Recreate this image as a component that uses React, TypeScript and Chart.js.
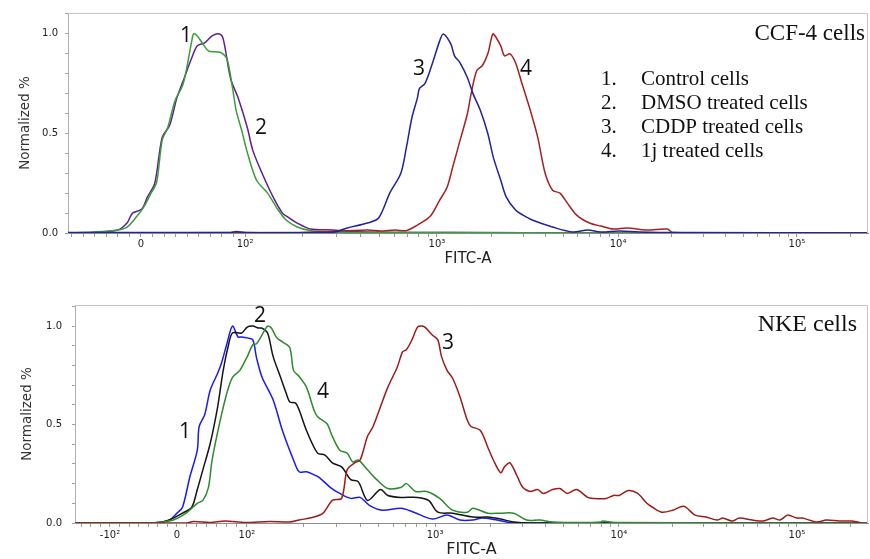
import React, { useEffect, useRef } from 'react';
import { Chart, registerables } from 'chart.js';
Chart.register(...registerables);

// Each point: [position on the biexponential FITC-A display (decade units, 10^3 ~ 3), normalized %]
// ---------------- CCF-4 cells ----------------
const ccfControl: number[][] = [
  [1.01, 0], [1.15, 0.003], [1.28, 0.015], [1.33, 0.05], [1.36, 0.1], [1.41, 0.12], [1.44, 0.18],
  [1.48, 0.25], [1.52, 0.48], [1.56, 0.54], [1.60, 0.68], [1.64, 0.78], [1.68, 0.88], [1.71, 0.94],
  [1.75, 0.955], [1.79, 0.99], [1.83, 1.0], [1.85, 0.975], [1.89, 0.775], [1.93, 0.68], [1.98, 0.53],
  [2.01, 0.415], [2.06, 0.3], [2.12, 0.18], [2.17, 0.1], [2.20, 0.08], [2.25, 0.05], [2.32, 0.02],
  [2.44, 0.015], [2.54, 0.008], [2.70, 0.004], [3.08, 0.002], [3.89, 0], [5.34, 0],
];
const ccfDmso: number[][] = [
  [1.01, 0], [1.15, 0.005], [1.28, 0.015], [1.33, 0.03], [1.38, 0.08], [1.42, 0.13], [1.46, 0.2],
  [1.49, 0.255], [1.52, 0.465], [1.55, 0.53], [1.59, 0.665], [1.63, 0.74], [1.65, 0.815], [1.68, 0.965],
  [1.69, 1.0], [1.71, 0.99], [1.74, 0.95], [1.77, 0.915], [1.81, 0.91], [1.84, 0.905], [1.87, 0.875],
  [1.90, 0.73], [1.92, 0.615], [1.95, 0.515], [1.98, 0.405], [2.03, 0.265], [2.09, 0.2], [2.14, 0.125],
  [2.19, 0.065], [2.25, 0.03], [2.32, 0.012], [2.44, 0.005], [2.59, 0.003], [3.08, 0.002], [3.89, 0], [5.34, 0],
];
const ccfCddp: number[][] = [
  [1.01, 0.002], [1.89, 0.003], [1.92, 0.008], [1.97, 0.003], [2.44, 0.003], [2.52, 0.025], [2.63, 0.05],
  [2.69, 0.075], [2.75, 0.2], [2.81, 0.3], [2.84, 0.43], [2.87, 0.58], [2.90, 0.68], [2.91, 0.725],
  [2.94, 0.75], [2.98, 0.85], [3.02, 0.965], [3.04, 1.0], [3.08, 0.95], [3.10, 0.89], [3.13, 0.855],
  [3.17, 0.78], [3.20, 0.7], [3.24, 0.615], [3.28, 0.5], [3.31, 0.38], [3.35, 0.265], [3.38, 0.18],
  [3.43, 0.115], [3.47, 0.09], [3.52, 0.065], [3.63, 0.03], [3.74, 0.005], [3.82, 0.015], [3.89, 0.005],
  [3.99, 0.01], [4.10, 0.005], [4.32, 0.002], [5.34, 0],
];
const ccf1j: number[][] = [
  [1.01, 0], [2.26, 0.003], [2.63, 0.015], [2.70, 0.01], [2.78, 0.015], [2.84, 0.012], [2.90, 0.04],
  [2.97, 0.085], [3.02, 0.165], [3.06, 0.23], [3.09, 0.33], [3.13, 0.465], [3.17, 0.6], [3.19, 0.7],
  [3.22, 0.815], [3.25, 0.84], [3.28, 0.9], [3.30, 0.98], [3.31, 1.0], [3.35, 0.94], [3.37, 0.89],
  [3.40, 0.9], [3.43, 0.855], [3.46, 0.765], [3.51, 0.615], [3.55, 0.48], [3.59, 0.3], [3.63, 0.215],
  [3.67, 0.2], [3.71, 0.15], [3.76, 0.09], [3.83, 0.05], [3.89, 0.035], [3.96, 0.02], [4.03, 0.025],
  [4.14, 0.015], [4.25, 0.02], [4.28, 0.003], [5.34, 0],
];
const ccfTickPos = [1.405, 1.968, 3.005, 3.984, 4.951];
const ccfTickLabels = ['0', '10²', '10³', '10⁴', '10⁵'];
const ccfRange = [1.011, 5.335];

// ---------------- NKE cells ----------------
const nkeControl: number[][] = [
  [1.05, 0], [1.45, 0], [1.52, 0.005], [1.56, 0.015], [1.60, 0.05], [1.63, 0.08], [1.67, 0.235],
  [1.71, 0.37], [1.72, 0.49], [1.75, 0.55], [1.78, 0.675], [1.82, 0.76], [1.84, 0.81], [1.87, 0.91],
  [1.90, 1.0], [1.93, 0.945], [1.95, 0.945], [1.98, 0.94], [2.01, 0.93], [2.03, 0.84], [2.06, 0.74],
  [2.12, 0.625], [2.17, 0.47], [2.23, 0.32], [2.26, 0.26], [2.30, 0.26], [2.34, 0.245], [2.37, 0.23],
  [2.43, 0.18], [2.48, 0.15], [2.54, 0.125], [2.59, 0.13], [2.64, 0.09], [2.71, 0.065], [2.81, 0.075],
  [2.88, 0.055], [2.98, 0.02], [3.06, 0.04], [3.13, 0.015], [3.20, 0.015], [3.25, 0.025], [3.33, 0.015],
  [3.42, 0], [5.34, 0],
];
const nkeDmso: number[][] = [
  [1.05, 0], [1.45, 0], [1.52, 0.005], [1.58, 0.025], [1.63, 0.05], [1.68, 0.08], [1.71, 0.17],
  [1.74, 0.27], [1.78, 0.405], [1.82, 0.59], [1.85, 0.775], [1.88, 0.91], [1.90, 0.965], [1.95, 0.965],
  [1.98, 0.995], [2.01, 1.0], [2.04, 0.99], [2.06, 0.99], [2.09, 0.965], [2.12, 0.845], [2.16, 0.74],
  [2.19, 0.66], [2.21, 0.615], [2.24, 0.61], [2.26, 0.575], [2.30, 0.47], [2.36, 0.355], [2.40, 0.345],
  [2.44, 0.305], [2.49, 0.285], [2.54, 0.22], [2.58, 0.21], [2.63, 0.115], [2.70, 0.17], [2.74, 0.14],
  [2.81, 0.13], [2.90, 0.13], [2.96, 0.115], [3.01, 0.055], [3.09, 0.05], [3.20, 0.03], [3.28, 0.03],
  [3.35, 0.02], [3.42, 0.005], [3.51, 0], [5.34, 0],
];
const nkeCddp: number[][] = [
  [1.05, 0], [1.65, 0], [1.69, 0.008], [1.78, 0.003], [1.86, 0.01], [1.97, 0.003], [2.10, 0.008],
  [2.21, 0.005], [2.26, 0.015], [2.34, 0.03], [2.39, 0.05], [2.44, 0.115], [2.49, 0.125], [2.52, 0.27],
  [2.56, 0.305], [2.59, 0.32], [2.63, 0.44], [2.66, 0.49], [2.70, 0.59], [2.74, 0.69], [2.79, 0.79],
  [2.82, 0.87], [2.84, 0.88], [2.87, 0.93], [2.90, 0.995], [2.92, 1.0], [2.94, 0.995], [2.98, 0.955],
  [3.01, 0.93], [3.03, 0.845], [3.06, 0.775], [3.09, 0.735], [3.13, 0.64], [3.17, 0.52], [3.19, 0.49],
  [3.24, 0.47], [3.28, 0.385], [3.31, 0.32], [3.35, 0.255], [3.37, 0.285], [3.40, 0.305], [3.44, 0.235],
  [3.47, 0.18], [3.51, 0.16], [3.55, 0.17], [3.58, 0.15], [3.63, 0.17], [3.67, 0.175], [3.71, 0.15],
  [3.76, 0.17], [3.82, 0.13], [3.85, 0.125], [3.92, 0.125], [3.96, 0.14], [3.99, 0.14], [4.04, 0.165],
  [4.09, 0.15], [4.14, 0.1], [4.17, 0.08], [4.22, 0.055], [4.28, 0.065], [4.34, 0.085], [4.40, 0.04],
  [4.46, 0.03], [4.52, 0.015], [4.55, 0.025], [4.60, 0.01], [4.64, 0.025], [4.71, 0.015], [4.77, 0.01],
  [4.82, 0.025], [4.86, 0.015], [4.90, 0.04], [4.95, 0.025], [4.98, 0.025], [5.06, 0.005], [5.11, 0.015],
  [5.18, 0.01], [5.25, 0.01], [5.30, 0],
];
const nke1j: number[][] = [
  [1.05, 0], [1.45, 0], [1.51, 0.005], [1.58, 0.015], [1.65, 0.05], [1.71, 0.1], [1.74, 0.115],
  [1.77, 0.18], [1.79, 0.32], [1.83, 0.505], [1.87, 0.66], [1.90, 0.74], [1.94, 0.775], [1.98, 0.845],
  [2.01, 0.905], [2.03, 0.91], [2.06, 0.955], [2.09, 1.0], [2.11, 0.99], [2.14, 0.94], [2.17, 0.92],
  [2.21, 0.89], [2.23, 0.775], [2.26, 0.745], [2.30, 0.69], [2.34, 0.575], [2.36, 0.54], [2.41, 0.505],
  [2.44, 0.44], [2.48, 0.37], [2.52, 0.355], [2.55, 0.31], [2.58, 0.32], [2.63, 0.27], [2.68, 0.22],
  [2.74, 0.175], [2.81, 0.18], [2.84, 0.2], [2.89, 0.16], [2.95, 0.16], [3.02, 0.125], [3.09, 0.065],
  [3.17, 0.055], [3.20, 0.075], [3.28, 0.05], [3.35, 0.05], [3.42, 0.05], [3.49, 0.015], [3.56, 0.015],
  [3.63, 0.005], [3.79, 0.002], [3.89, 0.005], [3.90, 0.01], [3.97, 0.002], [5.34, 0],
];
const nkeTickPos = [1.238, 1.60, 1.978, 2.995, 3.989, 4.951];
const nkeTickLabels = ['-10²', '0', '10²', '10³', '10⁴', '10⁵'];
const nkeRange = [1.049, 5.335];

// shared
const yTickValues = [0, 0.1, 0.2, 0.3, 0.4, 0.5, 0.6, 0.7, 0.8, 0.9, 1.0, 1.1];
const yTickLabels = ['0.0', '', '', '', '', '0.5', '', '', '', '', '1.0', ''];
const legendNumbers = ['1.', '2.', '3.', '4.'];
const legendItems = ['Control cells', 'DMSO treated cells', 'CDDP treated cells', '1j treated cells'];

// curve number labels, placed in data coordinates
const ccfMarks = [
  { text: '1', x: 1.649, y: 0.99 },
  { text: '2', x: 2.054, y: 0.525 },
  { text: '3', x: 2.908, y: 0.825 },
  { text: '4', x: 3.486, y: 0.825 },
];
const nkeMarks = [
  { text: '1', x: 1.643, y: 0.462 },
  { text: '2', x: 2.049, y: 1.051 },
  { text: '3', x: 3.065, y: 0.914 },
  { text: '4', x: 2.389, y: 0.665 },
];

function buildXTicks(pos: number[], labels: string[], linDiv: number, min: number, max: number) {
  const ticks: { value: number; label: string }[] = [];
  const i2 = labels.indexOf('10²');
  for (let i = 0; i < i2; i++) {
    const a = pos[i], b = pos[i + 1];
    for (let k = 1; k < linDiv; k++) ticks.push({ value: a + ((b - a) * k) / linDiv, label: '' });
  }
  const step = (pos[1] - pos[0]) / linDiv;
  for (let v = pos[0] - step; v >= min; v -= step) ticks.push({ value: v, label: '' });
  for (let i = i2; i < pos.length; i++) {
    const a = pos[i];
    const w = i + 1 < pos.length ? pos[i + 1] - a : a - pos[i - 1];
    for (let k = 2; k <= 9; k++) {
      const v = a + Math.log10(k) * w;
      if (v <= max) ticks.push({ value: v, label: '' });
    }
  }
  pos.forEach((p, i) => ticks.push({ value: p, label: labels[i] }));
  return ticks.sort((a, b) => a.value - b.value);
}

type PanelCfg = {
  top: number;
  height: number;
  padTop: number;
  yAxisWidth: number;
  yTickPad: number;
  yTitlePad: number;
  xAxisHeight: number;
  xTickPad: number;
  xTitleSize: number;
  xTitlePadB: number;
  yMax: number;
  range: number[];
  tickPos: number[];
  tickLabels: string[];
  linDiv: number;
  series: { data: number[][]; color: string }[];
  marks: { text: string; x: number; y: number }[];
  title: string;
  titleSize: number;
  titleDx: number;
  titleDy: number;
  legend: boolean;
};

const panels: PanelCfg[] = [
  {
    top: 0, height: 272, padTop: 12, yAxisWidth: 68, yTickPad: 7, yTitlePad: 16.9,
    xAxisHeight: 39, xTickPad: 1, xTitleSize: 15, xTitlePadB: 4, yMax: 1.105,
    range: ccfRange, tickPos: ccfTickPos, tickLabels: ccfTickLabels, linDiv: 9,
    series: [
      { data: ccfCddp, color: '#22229a' },
      { data: ccf1j, color: '#a62020' },
      { data: ccfDmso, color: '#3b9c3b' },
      { data: ccfControl, color: '#5e2090' },
    ],
    marks: ccfMarks, title: 'CCF-4 cells', titleSize: 23, titleDx: 3, titleDy: 27, legend: true,
  },
  {
    top: 280, height: 279, padTop: 25, yAxisWidth: 75, yTickPad: 10, yTitlePad: 18.9,
    xAxisHeight: 36, xTickPad: 2, xTitleSize: 16, xTitlePadB: 0, yMax: 1.107,
    range: nkeRange, tickPos: nkeTickPos, tickLabels: nkeTickLabels, linDiv: 7,
    series: [
      { data: nkeCddp, color: '#9c1c1c' },
      { data: nke1j, color: '#2e8a2e' },
      { data: nkeDmso, color: '#141414' },
      { data: nkeControl, color: '#1a1af5' },
    ],
    marks: nkeMarks, title: 'NKE cells', titleSize: 24, titleDx: 11, titleDy: 26, legend: false,
  },
];

function Panel({ cfg }: { cfg: PanelCfg }) {
  const ref = useRef<HTMLCanvasElement>(null);
  useEffect(() => {
    const xt = buildXTicks(cfg.tickPos, cfg.tickLabels, cfg.linDiv, cfg.range[0], cfg.range[1]);
    const overlay = {
      id: 'overlay',
      afterDatasetsDraw(chart: any) {
        const { ctx, chartArea: ca, scales } = chart;
        ctx.save();
        ctx.strokeStyle = '#c4c4c4';
        ctx.lineWidth = 1;
        ctx.beginPath();
        ctx.moveTo(ca.left, ca.top + 0.5);
        ctx.lineTo(ca.right - 0.5, ca.top + 0.5);
        ctx.lineTo(ca.right - 0.5, ca.bottom);
        ctx.stroke();

        ctx.fillStyle = '#111';
        ctx.font = '21px "Open Sans"';
        ctx.textAlign = 'center';
        ctx.textBaseline = 'middle';
        cfg.marks.forEach((m) => {
          ctx.fillText(m.text, scales.x.getPixelForValue(m.x), scales.y.getPixelForValue(m.y));
        });

        ctx.textBaseline = 'alphabetic';
        ctx.textAlign = 'right';
        ctx.font = `${cfg.titleSize}px "Liberation Serif"`;
        ctx.fillText(cfg.title, ca.right - cfg.titleDx, ca.top + cfg.titleDy);

        if (cfg.legend) {
          ctx.font = '21px "Liberation Serif"';
          ctx.textAlign = 'left';
          legendItems.forEach((t, i) => {
            const yy = ca.top + 72 + 24 * i;
            ctx.fillText(legendNumbers[i], ca.right - 267, yy);
            ctx.fillText(t, ca.right - 227, yy);
          });
        }
        ctx.restore();
      },
    };

    const chart = new Chart(ref.current!, {
      type: 'line',
      data: {
        datasets: cfg.series.map((s) => ({
          data: s.data.map(([x, y]) => ({ x, y })),
          borderColor: s.color,
          backgroundColor: s.color,
          borderWidth: 1.5,
          pointRadius: 0,
          tension: 0.3,
          fill: false,
        })),
      },
      options: {
        responsive: false,
        animation: false,
        layout: { padding: { top: cfg.padTop, right: 2, left: 0, bottom: 0 } },
        plugins: { legend: { display: false }, tooltip: { enabled: false } },
        scales: {
          x: {
            type: 'linear',
            min: cfg.range[0],
            max: cfg.range[1],
            afterBuildTicks: (s: any) => {
              s.ticks = xt.map((t) => ({ value: t.value }));
            },
            afterFit: (s: any) => {
              s.height = cfg.xAxisHeight;
            },
            ticks: {
              autoSkip: false,
              maxRotation: 0,
              minRotation: 0,
              padding: cfg.xTickPad,
              color: '#222',
              font: { family: 'DejaVu Sans', size: 10 },
              callback: (_v: any, i: number) => (xt[i] ? xt[i].label : ''),
            },
            grid: { drawOnChartArea: false, drawTicks: true, tickLength: 4, color: '#9a9a9a' },
            border: { display: true, color: '#8c8c8c', width: 1 },
            title: {
              display: true,
              text: 'FITC-A',
              color: '#222',
              font: { family: 'DejaVu Sans', size: cfg.xTitleSize },
              padding: { top: 0, bottom: cfg.xTitlePadB },
            },
          },
          y: {
            type: 'linear',
            min: 0,
            max: cfg.yMax,
            afterBuildTicks: (s: any) => {
              s.ticks = yTickValues.map((v) => ({ value: v }));
            },
            afterFit: (s: any) => {
              s.width = cfg.yAxisWidth;
            },
            ticks: {
              autoSkip: false,
              padding: cfg.yTickPad,
              color: '#222',
              font: { family: 'DejaVu Sans', size: 10 },
              callback: (_v: any, i: number) => yTickLabels[i] ?? '',
            },
            grid: { drawOnChartArea: false, drawTicks: true, tickLength: 3, color: '#a0a0a0' },
            border: { display: true, color: '#b0b0b0', width: 1 },
            title: {
              display: true,
              text: 'Normalized %',
              color: '#333',
              font: { family: 'DejaVu Sans', size: 13.5 },
              padding: { top: cfg.yTitlePad, bottom: 0 },
            },
          },
        },
      },
      plugins: [overlay],
    } as any);
    return () => chart.destroy();
  }, [cfg]);
  return (
    <canvas
      ref={ref}
      width={870}
      height={cfg.height}
      style={{ position: 'absolute', left: 0, top: cfg.top, display: 'block' }}
    />
  );
}

export default function App() {
  return (
    <div style={{ position: 'absolute', left: 0, top: 0, width: 870, height: 559, background: '#fff' }}>
      {panels.map((p, i) => (
        <Panel key={i} cfg={p} />
      ))}
    </div>
  );
}
